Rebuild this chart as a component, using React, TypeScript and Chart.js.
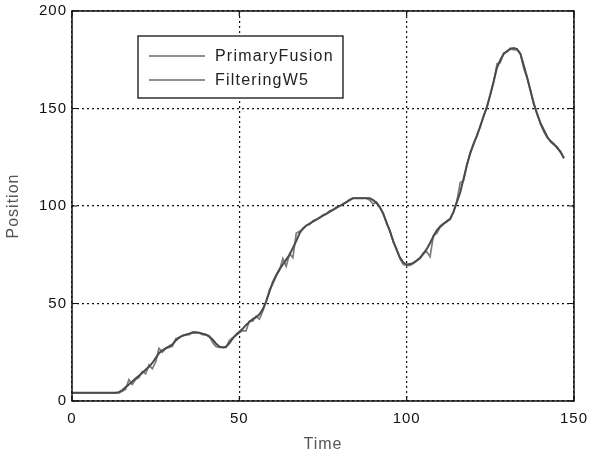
import React, { useEffect, useRef } from "react";
import { Chart, registerables } from "chart.js";

Chart.register(...registerables);

const times: number[] = [];
for (let t = 0; t <= 147; t++) times.push(t);

const primaryFusion: number[] = [
  4.2, 4.2, 4.2, 4.2, 4.2, 4.2, 4.2, 4.2, 4.2, 4.2, 4.2, 4.2, 4.2, 4.2,
  4.2, 5, 6, 11, 8.5, 11, 12, 15, 14, 18.5, 16.5, 20, 27, 25, 27, 27.5,
  28, 32, 32.5, 33.5, 34, 34, 35.5, 35.5, 35, 34, 34, 33.5, 30, 28, 27.5, 27.5,
  27.5, 31, 32.5, 33.5, 35, 36, 36, 41, 41, 43.5, 42, 46, 51, 57, 60, 64,
  67, 73, 69, 75.5, 73.5, 86, 87, 88, 90, 90.5, 92.5, 93, 94, 95.5, 96, 97.5,
  98, 99.5, 100, 101, 102, 103.5, 104, 104, 104, 104, 104, 103, 101, 102, 99, 96.5,
  91, 87.5, 81.5, 78, 73, 70, 69.5, 69.5, 70.5, 72, 73, 76, 76.5, 74, 85, 86,
  89, 90.5, 92.5, 93, 97, 102.5, 112, 113, 121, 127.5, 131.5, 136.5, 140.5, 146.5, 150.5, 157.5,
  163.5, 173, 173.5, 178.5, 179, 181, 180, 180, 178, 170.5, 165.5, 159.5, 152, 147.5, 142, 138,
  135, 133.5, 132, 129.5, 128, 124.5,
];

const filteringW5: number[] = [
  4.2, 4.2, 4.2, 4.2, 4.2, 4.2, 4.2, 4.2, 4.2, 4.2, 4.2, 4.2, 4.2, 4.2,
  4.5, 5.5, 7, 8.5, 10, 11.5, 13, 14.5, 16, 17.5, 19.5, 22, 24.5, 26, 27, 28,
  29, 31, 32.5, 33.5, 34, 34.5, 35, 35, 35, 34.5, 34, 33, 31.5, 29.5, 28, 27.5,
  27.8, 29.5, 32, 34, 35.5, 37, 39, 40.5, 42, 43, 44.5, 47, 51, 56, 61, 64.5,
  67.5, 70, 72.5, 75, 78.5, 82, 86, 88.5, 90, 91, 92, 93, 94, 95, 96, 97,
  98, 99, 100, 101, 102, 103, 104, 104, 104, 104, 104, 104, 103, 101.5, 99.5, 96,
  91.5, 87, 82, 77.5, 73.5, 71, 70, 70.2, 70.8, 72, 73.5, 75.5, 78, 81, 84.5, 87.5,
  89.5, 91, 92, 93.5, 97, 102, 107, 114, 121, 127, 132, 136, 141, 146, 151, 157,
  164, 171, 175, 178, 179.5, 180.5, 181, 180.5, 178, 172, 166, 159, 152.5, 147, 142.5, 139,
  135.5, 133, 131.5, 130, 127.5, 124.5,
];

const seriesLabels = ["PrimaryFusion", "FilteringW5"];
const xTicks = [0, 50, 100, 150];
const yTicks = [0, 50, 100, 150, 200];

const FONT = "'Liberation Sans', Arial, Helvetica, sans-serif";

const spacingPlugin = {
  id: "spacing",
  beforeDraw(chart: any) {
    chart.ctx.letterSpacing = "1px";
  },
};

const boxPlugin = {
  id: "matlabBox",
  afterDatasetsDraw(chart: any) {
    const { ctx, chartArea } = chart;
    const xs = chart.scales.x;
    const ys = chart.scales.y;
    ctx.save();
    ctx.strokeStyle = "#111";
    ctx.lineWidth = 1.5;
    ctx.strokeRect(chartArea.left, chartArea.top, chartArea.right - chartArea.left, chartArea.bottom - chartArea.top);
    ctx.lineWidth = 1.2;
    ctx.beginPath();
    xTicks.forEach((v) => {
      const px = xs.getPixelForValue(v);
      ctx.moveTo(px, chartArea.bottom);
      ctx.lineTo(px, chartArea.bottom - 5);
      ctx.moveTo(px, chartArea.top);
      ctx.lineTo(px, chartArea.top + 5);
    });
    yTicks.forEach((v) => {
      const py = ys.getPixelForValue(v);
      ctx.moveTo(chartArea.left, py);
      ctx.lineTo(chartArea.left + 5, py);
      ctx.moveTo(chartArea.right, py);
      ctx.lineTo(chartArea.right - 5, py);
    });
    ctx.stroke();

    // legend
    const lx = 138, ly = 36, lw = 205, lh = 62;
    ctx.fillStyle = "#fff";
    ctx.fillRect(lx, ly, lw, lh);
    ctx.strokeStyle = "#111";
    ctx.lineWidth = 1.3;
    ctx.strokeRect(lx, ly, lw, lh);
    const rows = [56, 80];
    chart.data.datasets.forEach((ds: any, i: number) => {
      ctx.strokeStyle = "#6a6a6a";
      ctx.lineWidth = 1.4;
      ctx.beginPath();
      ctx.moveTo(149, rows[i]);
      ctx.lineTo(205, rows[i]);
      ctx.stroke();
      ctx.fillStyle = "#222";
      ctx.font = `16px ${FONT}`;
      ctx.letterSpacing = "1.2px";
      ctx.textBaseline = "middle";
      ctx.textAlign = "left";
      ctx.fillText(ds.label, 215, rows[i] + 1);
    });
    ctx.restore();
  },
};

export default function App() {
  const ref = useRef<HTMLCanvasElement>(null);
  useEffect(() => {
    document.body.style.margin = "0";
    const ctx = ref.current!;
    const chart = new Chart(ctx, {
      type: "line",
      data: {
        datasets: [
          {
            label: seriesLabels[0],
            data: times.map((t, i) => ({ x: t, y: primaryFusion[i] })),
            borderColor: "#7c7c7c",
            borderWidth: 1.7,
            pointRadius: 0,
            tension: 0,
            order: 1,
          },
          {
            label: seriesLabels[1],
            data: times.map((t, i) => ({ x: t, y: filteringW5[i] })),
            borderColor: "#4a4a4a",
            borderWidth: 2,
            pointRadius: 0,
            tension: 0,
            order: 0,
          },
        ],
      },
      options: {
        animation: false,
        responsive: false,
        maintainAspectRatio: false,
        layout: { padding: { top: 11, right: 15, left: 0, bottom: 0 } },
        plugins: { legend: { display: false }, tooltip: { enabled: false } },
        scales: {
          x: {
            type: "linear",
            min: 0,
            max: 150,
            afterBuildTicks: (s: any) => {
              s.ticks = xTicks.map((v) => ({ value: v }));
            },
            afterFit: (s: any) => {
              s.height = 53;
              s.paddingLeft = 0;
              s.paddingRight = 0;
            },
            ticks: { font: { size: 15, family: FONT }, color: "#111", padding: 9 },
            grid: {
              color: "#111",
              lineWidth: 1.2,
              drawTicks: false,
            },
            border: { display: false, dash: [2, 3] },
            title: {
              display: true,
              text: "Time",
              font: { size: 16, family: FONT },
              color: "#555",
              padding: { top: 4, bottom: 0 },
            },
          },
          y: {
            type: "linear",
            min: 0,
            max: 200,
            afterBuildTicks: (s: any) => {
              s.ticks = yTicks.map((v) => ({ value: v }));
            },
            afterFit: (s: any) => {
              s.width = 72;
              s.paddingTop = 0;
              s.paddingBottom = 0;
            },
            ticks: { font: { size: 15, family: FONT }, color: "#111", padding: 5 },
            grid: {
              color: "#111",
              lineWidth: 1.2,
              drawTicks: false,
            },
            border: { display: false, dash: [2, 3] },
            title: {
              display: true,
              text: "Position",
              font: { size: 16, family: FONT },
              color: "#555",
              padding: { top: 4, bottom: 4 },
            },
          },
        },
      },
      plugins: [spacingPlugin, boxPlugin],
    });
    return () => chart.destroy();
  }, []);
  return (
    <div style={{ width: 589, height: 454 }}>
      <canvas ref={ref} width={589} height={454} style={{ display: "block" }} />
    </div>
  );
}
